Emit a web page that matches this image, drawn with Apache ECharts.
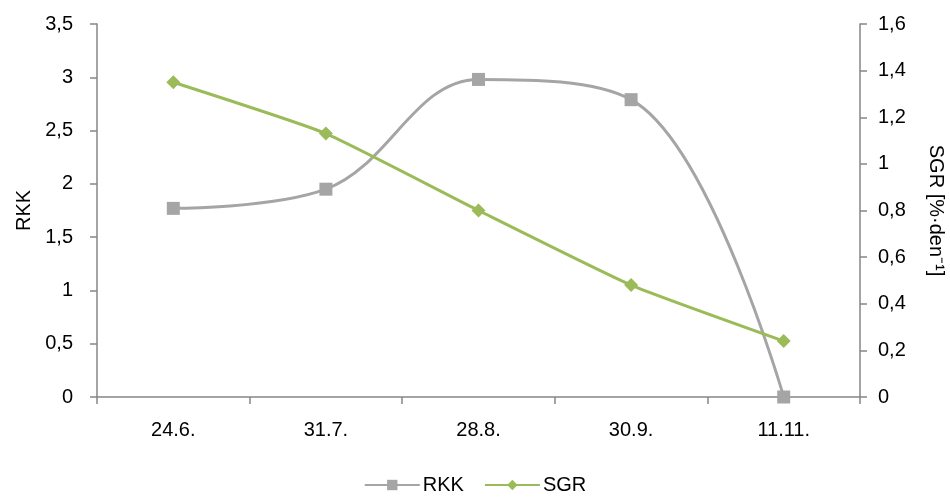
<!DOCTYPE html>
<html>
<head>
<meta charset="utf-8">
<script src="https://cdn.jsdelivr.net/npm/echarts@6/dist/echarts.min.js"></script>
<style>
html,body{margin:0;padding:0;background:#fff;}
#chart{width:950px;height:502px;}
</style>
</head>
<body>
<div id="chart"></div>
<script>
// Sampling dates
const categories = ['24.6.', '31.7.', '28.8.', '30.9.', '11.11.'];
// Condition index (left axis)
const rkkValues = [1.77, 1.95, 2.98, 2.79, 0];
// Specific growth rate, % per day (right axis)
const sgrValues = [1.35, 1.13, 0.80, 0.48, 0.24];

const axisGray = '#868686';
const font = '"Liberation Sans", Arial, sans-serif';
const fmt = v => String(Math.round(v * 10) / 10).replace('.', ',');

const chart = echarts.init(document.getElementById('chart'));
chart.setOption({
  animation: false,
  textStyle: { fontFamily: font },
  grid: { left: 97, right: 90, top: 24, bottom: 105, containLabel: false, outerBoundsMode: 'none' },
  legend: {
    bottom: 2,
    left: 'center',
    itemWidth: 55,
    itemHeight: 13,
    itemGap: 20,
    textStyle: { fontSize: 20, color: '#000', fontFamily: font, padding: [0, 0, 0, -2] },
    data: ['RKK', 'SGR']
  },
  xAxis: {
    type: 'category',
    data: categories,
    boundaryGap: true,
    axisLine: { lineStyle: { color: axisGray, width: 1.5 } },
    axisTick: { show: true, length: 7, inside: false, lineStyle: { color: axisGray, width: 1.5 } },
    axisLabel: { fontSize: 20, color: '#000', margin: 23, fontFamily: font }
  },
  yAxis: [
    {
      type: 'value', min: 0, max: 3.5, interval: 0.5,
      name: 'RKK', nameLocation: 'middle', nameGap: 63, nameRotate: 90,
      nameTextStyle: { fontSize: 20, color: '#000', fontFamily: font },
      axisLine: { show: true, lineStyle: { color: axisGray, width: 1.5 } },
      axisTick: { show: true, length: 7, lineStyle: { color: axisGray, width: 1.5 } },
      splitLine: { show: false },
      axisLabel: { fontSize: 20, color: '#000', margin: 24, formatter: fmt, fontFamily: font }
    },
    {
      type: 'value', min: 0, max: 1.6, interval: 0.2,
      name: 'SGR [%·den⁻¹]', nameLocation: 'middle', nameGap: 66, nameRotate: -90,
      nameTextStyle: { fontSize: 20, color: '#000', fontFamily: font },
      axisLine: { show: true, lineStyle: { color: axisGray, width: 1.5 } },
      axisTick: { show: true, length: 7, lineStyle: { color: axisGray, width: 1.5 } },
      splitLine: { show: false },
      axisLabel: { fontSize: 20, color: '#000', margin: 18, formatter: fmt, fontFamily: font }
    }
  ],
  series: [
    {
      name: 'RKK', type: 'line', yAxisIndex: 0, data: rkkValues,
      smooth: 0.38,
      symbol: 'rect', symbolSize: 13,
      itemStyle: { color: '#a5a5a5' },
      lineStyle: { color: '#a5a5a5', width: 3 }
    },
    {
      name: 'SGR', type: 'line', yAxisIndex: 1, data: sgrValues,
      smooth: 0.15,
      symbol: 'diamond', symbolSize: 14,
      itemStyle: { color: '#9bbb59' },
      lineStyle: { color: '#9bbb59', width: 3 }
    }
  ]
});
</script>
</body>
</html>
